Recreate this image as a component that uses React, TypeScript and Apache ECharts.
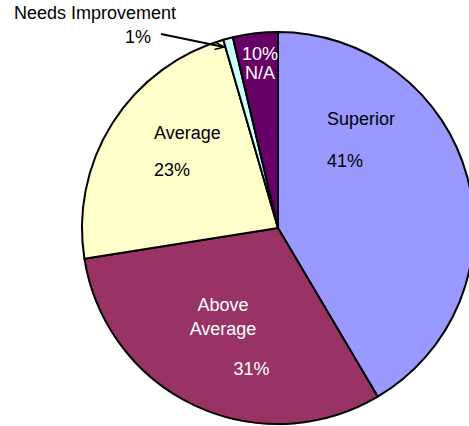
import React, { useEffect, useRef } from "react";
import * as echarts from "echarts";

const categories = ["Superior", "Above Average", "Average", "Needs Improvement", "N/A"];
const values = [41.5, 31, 23, 0.8, 3.7];
const percentLabels = ["41%", "31%", "23%", "1%", "10%"];

const colors = ["#9999FF", "#993366", "#FFFFCC", "#CCFFFF", "#660066"];
const textColors = ["#000", "#fff", "#000", "#000", "#fff"];

// label layout (position per slice)
const labelPos = [
  { x: 327, y: 108, align: "left" },
  { x: 223, y: 292.7, align: "center" },
  { x: 154, y: 123.5, align: "left" },
  { x: 14, y: 3.2, align: "left" },
  { x: 260, y: 44, align: "center" },
];

const FONT = "'Liberation Sans', Arial, sans-serif";

function formatLabel(i: number): string {
  const p = percentLabels[i];
  switch (i) {
    case 0:
      return `{s|${categories[0]}}\n{s|}\n{s|${p}}`;
    case 1:
      return `{a|Above}\n{a|Average}\n{p|${p}}`;
    case 2:
      return `{g|${categories[2]}}\n{g|}\n{g|${p}}`;
    case 3:
      return `{n|${categories[3]}}\n{m|${p}}`;
    default:
      return `{x|${p}}\n{x|${categories[4]}}`;
  }
}

export default function App() {
  const ref = useRef<HTMLDivElement>(null);
  useEffect(() => {
    if (!ref.current) return;
    const chart = echarts.init(ref.current, null, { renderer: "svg" });
    const base = { fontFamily: FONT, fontSize: 18 };
    chart.setOption({
      animation: false,
      backgroundColor: "#fff",
      series: [
        {
          type: "pie",
          center: [278, 228],
          radius: 196,
          startAngle: 90,
          clockwise: true,
          avoidLabelOverlap: false,
          silent: true,
          itemStyle: { borderColor: "#000", borderWidth: 2 },
          labelLine: { show: false },
          label: {
            show: true,
            position: "inside",
            formatter: (params: any) => formatLabel(params.dataIndex),
          },
          labelLayout: (params: any) => {
            const p = labelPos[params.dataIndex];
            return { x: p.x, y: p.y, align: p.align, verticalAlign: "top" };
          },
          data: categories.map((name, i) => ({
            name,
            value: values[i],
            itemStyle: { color: colors[i] },
            label: {
              color: textColors[i],
              rich: {
                s: { ...base, color: textColors[i], lineHeight: 21 },
                g: { ...base, color: textColors[i], lineHeight: 18.5 },
                a: { ...base, color: textColors[i], lineHeight: 24 },
                p: { ...base, color: textColors[i], lineHeight: 56, padding: [0, 0, 0, 57] },
                n: { ...base, color: textColors[i], lineHeight: 20 },
                m: { ...base, color: textColors[i], lineHeight: 27, padding: [0, 0, 0, 111] },
                x: { ...base, color: textColors[i], lineHeight: 19 },
              },
            },
          })),
        },
      ],
      graphic: [
        {
          type: "line",
          shape: { x1: 161, y1: 34, x2: 224, y2: 47 },
          style: { stroke: "#000", lineWidth: 2 },
          z: 100,
        },
        {
          type: "polyline",
          shape: { points: [[215, 42], [224, 47], [214.5, 49.5]] },
          style: { stroke: "#000", lineWidth: 1.5, fill: null },
          z: 100,
        },
      ],
    });
    return () => chart.dispose();
  }, []);
  return (
    <div
      ref={ref}
      style={{ position: "fixed", left: 0, top: 0, width: 469, height: 426 }}
    />
  );
}
